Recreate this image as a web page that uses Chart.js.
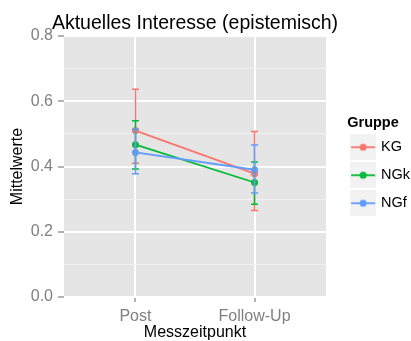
<!DOCTYPE html>
<html>
<head>
<meta charset="utf-8">
<script src="https://cdn.jsdelivr.net/npm/chart.js@4"></script>
<style>
  html, body { margin: 0; padding: 0; background: #fff; }
  #wrap { width: 411px; height: 341px; }
</style>
</head>
<body>
<div id="wrap"><canvas id="myChart" width="411" height="341"></canvas></div>
<script>
const timepoints = ["Post", "Follow-Up"];
const groups = ["KG", "NGk", "NGf"];
const groupColors = ["#F8766D", "#00BA38", "#619CFF"];

// means per group, Post / Follow-Up
const kgMeans = [0.51, 0.378];
const ngkMeans = [0.467, 0.351];
const ngfMeans = [0.443, 0.39];

// error bar limits
const kgLow = [0.41, 0.265];
const kgHigh = [0.637, 0.507];
const ngkLow = [0.392, 0.284];
const ngkHigh = [0.54, 0.414];
const ngfLow = [0.378, 0.319];
const ngfHigh = [0.514, 0.466];

const yTicks = [0.0, 0.2, 0.4, 0.6, 0.8];

const means = [kgMeans, ngkMeans, ngfMeans];
const lows = [kgLow, ngkLow, ngfLow];
const highs = [kgHigh, ngkHigh, ngfHigh];

const ctx = document.getElementById("myChart").getContext("2d");
const grayText = "#7F7F7F";
const font = "'Liberation Sans', Arial, Helvetica, sans-serif";

Chart.defaults.font.family = font;

// legend key: grey square with line and dot, left part transparent
const makeKey = (color) => {
    const c = document.createElement("canvas");
    c.width = 39;
    c.height = 26;
    const k = c.getContext("2d");
    k.fillStyle = "#F2F2F2";
    k.fillRect(13, 0, 26, 26);
    k.strokeStyle = color;
    k.lineWidth = 1.8;
    k.beginPath();
    k.moveTo(14, 13);
    k.lineTo(38, 13);
    k.stroke();
    k.fillStyle = color;
    k.beginPath();
    k.arc(26, 13, 3.5, 0, Math.PI * 2);
    k.fill();
    return c;
};
const keys = groupColors.map(makeKey);

const panelBg = {
    id: "panelBg",
    beforeDraw(chart) {
        const a = chart.chartArea;
        const c = chart.ctx;
        c.save();
        c.fillStyle = "#E5E5E5";
        c.fillRect(a.left, a.top, a.right - a.left, a.bottom - a.top);
        c.restore();
    }
};

const errorBars = {
    id: "errorBars",
    afterDatasetsDraw(chart) {
        const c = chart.ctx;
        const xs = chart.scales.x;
        const ys = chart.scales.y;
        c.save();
        groups.forEach((g, i) => {
            c.strokeStyle = groupColors[i];
            c.lineWidth = 1.5;
            timepoints.forEach((t, j) => {
                const px = xs.getPixelForValue(j + 1);
                const lo = ys.getPixelForValue(lows[i][j]);
                const hi = ys.getPixelForValue(highs[i][j]);
                c.beginPath();
                c.moveTo(px, lo);
                c.lineTo(px, hi);
                c.moveTo(px - 3.5, lo);
                c.lineTo(px + 3.5, lo);
                c.moveTo(px - 3.5, hi);
                c.lineTo(px + 3.5, hi);
                c.stroke();
            });
        });
        c.restore();
    }
};

const isMajor = (v) => Math.round(v * 10) % 2 === 0;

new Chart(ctx, {
    type: "line",
    data: {
        datasets: groups.map((g, i) => ({
            label: g,
            data: means[i].map((m, j) => ({ x: j + 1, y: m })),
            borderColor: groupColors[i],
            backgroundColor: groupColors[i],
            pointBackgroundColor: groupColors[i],
            pointBorderWidth: 0,
            pointRadius: 3.5,
            borderWidth: 1.8,
            order: groups.length - 1 - i,
        })),
    },
    options: {
        responsive: false,
        animation: false,
        // left/right padding chosen so the full-width title centres over the panel
        layout: { padding: { left: -30, right: -9, top: 0, bottom: 0 } },
        scales: {
            x: {
                type: "linear",
                min: 0.4,
                max: 2.6,
                afterBuildTicks: (s) => { s.ticks = timepoints.map((t, j) => ({ value: j + 1 })); },
                afterFit: (s) => { s.height = 44; },
                ticks: {
                    callback: (v) => timepoints[v - 1],
                    color: grayText,
                    font: { size: 16 },
                    padding: 5,
                    maxRotation: 0,
                },
                grid: { color: "#FFFFFF", lineWidth: 2, tickLength: 5, tickColor: "#7F7F7F", tickWidth: 1.2 },
                border: { display: false },
                title: {
                    display: true,
                    text: "Messzeitpunkt",
                    color: "#000",
                    font: { size: 16, lineHeight: 1 },
                    padding: { top: 0, bottom: 0 },
                },
            },
            y: {
                min: 0,
                max: 0.8,
                afterBuildTicks: (s) => {
                    const t = [];
                    for (let k = 0; k <= 8; k++) t.push({ value: k / 10 });
                    s.ticks = t;
                },
                afterFit: (s) => { s.width = 94; },
                ticks: {
                    callback: (v) => (yTicks.some(y => Math.abs(y - v) < 1e-9) ? v.toFixed(1) : ""),
                    color: grayText,
                    font: { size: 16 },
                    padding: 5,
                },
                grid: {
                    color: (c) => (isMajor(c.tick.value) ? "#FFFFFF" : "#F2F2F2"),
                    lineWidth: (c) => (isMajor(c.tick.value) ? 2 : 1),
                    tickColor: (c) => (isMajor(c.tick.value) ? "#7F7F7F" : "rgba(0,0,0,0)"),
                    tickLength: 6,
                    tickWidth: 1.2,
                },
                border: { display: false },
                title: {
                    display: true,
                    text: "Mittelwerte",
                    color: "#000",
                    font: { size: 16, lineHeight: 1.2 },
                    padding: { top: 38, bottom: 0 },
                },
            },
        },
        plugins: {
            title: {
                display: true,
                text: "Aktuelles Interesse (epistemisch)",
                color: "#000",
                font: { size: 19.5, weight: "normal", lineHeight: 1.2 },
                padding: { top: 12.3, bottom: 0.3 },
            },
            legend: {
                position: "right",
                align: "start",
                title: {
                    display: true,
                    text: "Gruppe",
                    position: "center",
                    color: "#000",
                    font: { size: 14.5, weight: "bold", lineHeight: 1 },
                    padding: { top: 115.5, bottom: -3.5 },
                },
                labels: {
                    usePointStyle: true,
                    pointStyleWidth: 34.25,
                    padding: 13.5,
                    color: "#000",
                    font: { size: 14.5 },
                    sort: (a, b) => a.datasetIndex - b.datasetIndex,
                    generateLabels: (chart) => {
                        const items = Chart.defaults.plugins.legend.labels.generateLabels(chart);
                        items.forEach(it => { it.pointStyle = keys[it.datasetIndex]; });
                        return items;
                    },
                },
            },
            tooltip: { enabled: false },
        },
    },
    plugins: [panelBg, errorBars],
});
</script>
</body>
</html>
